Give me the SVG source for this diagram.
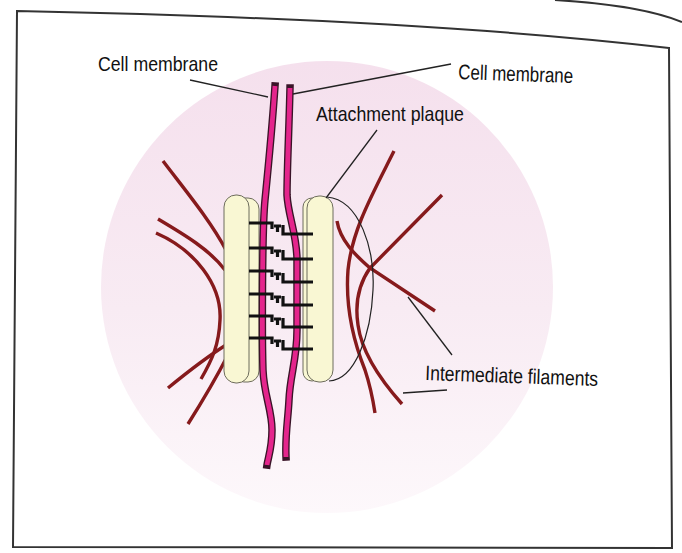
<svg xmlns="http://www.w3.org/2000/svg" xmlns:xlink="http://www.w3.org/1999/xlink" width="682" height="553" viewBox="0 0 682 553">
  <defs>
    <linearGradient id="haloFill" x1="0" y1="0" x2="0" y2="1">
      <stop offset="0" stop-color="#f5e0ed"/>
      <stop offset="0.55" stop-color="#f8ebf3"/>
      <stop offset="1" stop-color="#fdf8fb"/>
    </linearGradient>
    <!-- one row of interlocking junction proteins, origin at left plaque edge -->
    <g id="link">
      <path class="junction" d="M0,0 H23 V6 M25,3 H32 M28.5,3 V9 M34,2 V11 H64"/>
    </g>
    <style>
      .frame { fill: none; stroke: #333; stroke-width: 2; }
      .filament { fill: none; stroke: #861a1c; stroke-width: 3.4; stroke-linecap: butt; }
      .plaque { fill: #f9f7d3; stroke: #6d6c5c; stroke-width: 1; }
      .membrane-edge { fill: none; stroke: #3a1428; stroke-width: 7.5; stroke-linecap: square; }
      .membrane-core { fill: none; stroke: #e4258c; stroke-width: 4.8; }
      .junction { fill: none; stroke: #111; stroke-width: 3.2; }
      .leader { fill: none; stroke: #222; stroke-width: 1.3; }
      .outline { fill: none; stroke: #222; stroke-width: 1.2; }
      .label { font-family: "Liberation Sans Narrow", "Liberation Sans", Arial, sans-serif; font-size: 21px; fill: #111; }
    </style>
  </defs>

  <rect width="682" height="553" fill="#ffffff"/>

  <!-- page frame and curled page edge -->
  <path class="frame" d="M17,11 Q420,19 669,48 L672,548 L13,547 Z"/>
  <path class="frame" d="M555,0 Q640,5 682,22"/>

  <!-- pink background disc -->
  <circle cx="327" cy="287" r="226" fill="url(#haloFill)"/>

  <!-- intermediate filaments -->
  <g id="filaments">
    <path class="filament" d="M163,161 C185,190 210,220 226,250"/>
    <path class="filament" d="M158,219 C185,235 210,250 225,270"/>
    <path class="filament" d="M156,233 C195,250 222,285 220,320 C219,345 212,360 201,379"/>
    <path class="filament" d="M168,388 C190,370 210,355 226,345"/>
    <path class="filament" d="M188,424 C200,405 215,380 228,355"/>
    <path class="filament" d="M394,151 C372,195 352,230 348,270 C345,310 355,345 365,370 C370,385 373,400 375,413"/>
    <path class="filament" d="M337,221 C340,240 355,255 370,268 L435,311"/>
    <path class="filament" d="M442,195 L370,268 C358,285 355,305 358,325 C362,355 385,385 402,404"/>
  </g>

  <!-- attachment plaques -->
  <g id="plaque-left">
    <rect class="plaque" x="233" y="198" width="26" height="184" rx="11"/>
    <rect class="plaque" x="224" y="195" width="25" height="188" rx="12"/>
  </g>
  <g id="plaque-right">
    <path class="outline" d="M327,197 C360,200 375,250 373,290 C371,335 355,380 329,381"/>
    <rect class="plaque" x="303" y="198" width="18" height="183" rx="9"/>
    <rect class="plaque" x="307" y="196" width="26" height="186" rx="12"/>
  </g>

  <!-- cell membranes -->
  <g id="membrane-left">
    <path class="membrane-edge" d="M275,86 C272,130 268,170 265,200 C262,230 262,340 263,370 C264,395 272,410 272,430 C272,448 268,458 267,465"/>
    <path class="membrane-core" d="M275,86 C272,130 268,170 265,200 C262,230 262,340 263,370 C264,395 272,410 272,430 C272,448 268,458 267,465"/>
  </g>
  <g id="membrane-right">
    <path class="membrane-edge" d="M290,88 C289,130 287,170 287,195 C288,215 297,235 297,260 L297,330 C297,360 290,375 289,400 C288,420 285,435 286,457"/>
    <path class="membrane-core" d="M290,88 C289,130 287,170 287,195 C288,215 297,235 297,260 L297,330 C297,360 290,375 289,400 C288,420 285,435 286,457"/>
  </g>

  <!-- junction proteins bridging the gap -->
  <g id="junctions">
    <use xlink:href="#link" x="249" y="223"/>
    <use xlink:href="#link" x="249" y="248"/>
    <use xlink:href="#link" x="249" y="271"/>
    <use xlink:href="#link" x="249" y="294"/>
    <use xlink:href="#link" x="249" y="316"/>
    <use xlink:href="#link" x="249" y="338"/>
  </g>

  <!-- label leaders -->
  <g id="leaders">
    <path class="leader" d="M190,80 L268,97"/>
    <path class="leader" d="M293,94 L451,64"/>
    <path class="leader" d="M377,130 L326,198"/>
    <path class="leader" d="M452,355 L408,297"/>
    <path class="leader" d="M447,390 L403,393"/>
  </g>

  <!-- labels -->
  <g id="labels">
    <text class="label" x="98" y="71" textLength="120" lengthAdjust="spacingAndGlyphs">Cell membrane</text>
    <text class="label" x="458" y="79" textLength="115" lengthAdjust="spacingAndGlyphs" transform="rotate(2 458 79)">Cell membrane</text>
    <text class="label" x="316" y="121" textLength="148" lengthAdjust="spacingAndGlyphs">Attachment plaque</text>
    <text class="label" x="425" y="380" textLength="173" lengthAdjust="spacingAndGlyphs" transform="rotate(2 425 380)">Intermediate filaments</text>
  </g>
</svg>
